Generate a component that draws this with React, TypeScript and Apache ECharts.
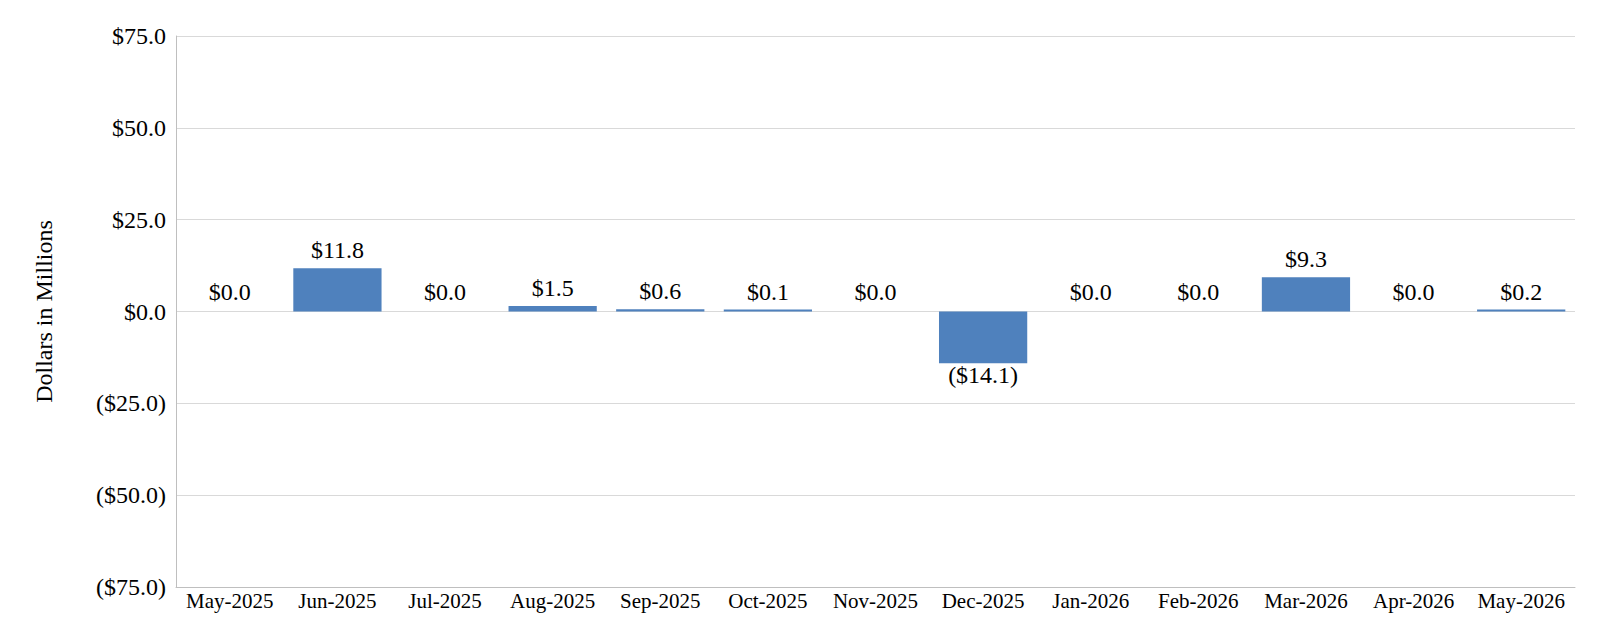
import React, { useEffect, useRef } from "react";
import * as echarts from "echarts";

const categories = [
  "May-2025", "Jun-2025", "Jul-2025", "Aug-2025", "Sep-2025", "Oct-2025", "Nov-2025",
  "Dec-2025", "Jan-2026", "Feb-2026", "Mar-2026", "Apr-2026", "May-2026",
];
const values = [0.0, 11.8, 0.0, 1.5, 0.6, 0.1, 0.0, -14.1, 0.0, 0.0, 9.3, 0.0, 0.2];
const yMin = -75;
const yMax = 75;
const yInterval = 25;
const yAxisName = "Dollars in Millions";

const fmt = (v: number) =>
  v < 0 ? `($${Math.abs(v).toFixed(1)})` : `$${v.toFixed(1)}`;

export default function App() {
  const ref = useRef<HTMLDivElement>(null);
  useEffect(() => {
    document.body.style.margin = "0";
    const chart = echarts.init(ref.current!, null, { renderer: "svg" });
    const font = "'Liberation Serif', 'Times New Roman', serif";
    chart.setOption({
      animation: false,
      backgroundColor: "#ffffff",
      grid: { left: 176, right: 25, top: 36, bottom: 50, containLabel: false },
      xAxis: {
        type: "category",
        data: categories,
        axisLine: { onZero: false, lineStyle: { color: "#BFBFBF", width: 1 } },
        axisTick: { show: false },
        axisLabel: { color: "#000", fontFamily: font, fontSize: 21, margin: 3, interval: 0 },
      },
      yAxis: {
        type: "value",
        min: yMin,
        max: yMax,
        interval: yInterval,
        name: yAxisName,
        nameLocation: "middle",
        nameGap: 120,
        nameTextStyle: { color: "#000", fontFamily: font, fontSize: 24 },
        axisLine: { show: true, lineStyle: { color: "#BFBFBF", width: 1 } },
        axisTick: { show: false },
        splitLine: { lineStyle: { color: "#D9D9D9", width: 1 } },
        axisLabel: {
          color: "#000",
          fontFamily: font,
          fontSize: 24,
          margin: 10,
          formatter: (v: number) => fmt(v),
        },
      },
      series: [
        {
          type: "bar",
          barMinHeight: 2,
          data: values.map((v) => ({
            value: v,
            itemStyle: v === 0 ? { color: "transparent" } : undefined,
            label: v < 0 ? { position: "bottom", distance: 0 } : { position: "top" },
          })),
          barWidth: "82%",
          itemStyle: { color: "#4F81BD" },
          label: {
            show: true,
            color: "#000",
            fontFamily: font,
            fontSize: 24,
            distance: 6,
            formatter: (p: any) => fmt(p.value),
          },
        },
      ],
    });
    return () => chart.dispose();
  }, []);
  return <div ref={ref} style={{ width: 1600, height: 637 }} />;
}
